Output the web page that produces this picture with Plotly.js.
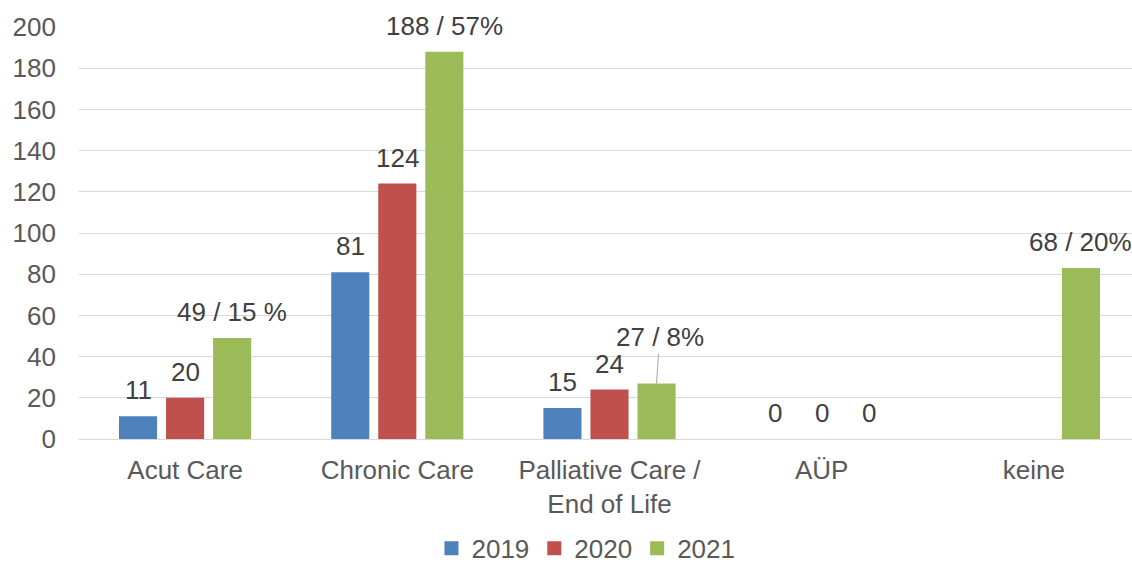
<!DOCTYPE html>
<html>
<head>
<meta charset="utf-8">
<script src="https://cdn.plot.ly/plotly-3.0.1.min.js"></script>
<style>
html,body{margin:0;padding:0;overflow:hidden;background:#fff;}
#chart{width:1140px;height:566px;}
</style>
</head>
<body>
<div id="chart"></div>
<script>
const categories = ['Acut Care', 'Chronic Care', 'Palliative Care /<br>End of Life', 'AÜP', 'keine'];
const seriesNames = ['2019', '2020', '2021'];
const values2019 = [11, 81, 15, 0, null];
const values2020 = [20, 124, 24, 0, null];
const values2021 = [49, 188, 27, 0, 83];
const labels2019 = ['11', '81', '15', '0', ''];
const labels2020 = ['20', '124', '24', '0', ''];
const labels2021 = ['49 / 15 %', '188 / 57%', '27 / 8%', '0', '68 / 20%'];
const yTicks = [0, 20, 40, 60, 80, 100, 120, 140, 160, 180, 200];

const colors = ['#4f81bd', '#c0504d', '#9bbb59'];
const allValues = [values2019, values2020, values2021];
const allLabels = [labels2019, labels2020, labels2021];
const FONT = 'Liberation Sans, Arial, sans-serif';
const FS = 26;

const BARGAP = 0.335, GROUPGAP = 0.19;
const slot = (1 - BARGAP) / 3;

const traces = seriesNames.map((n, s) => ({
  type: 'bar',
  name: n,
  x: categories,
  y: allValues[s],
  marker: {color: colors[s]},
  hoverinfo: 'none',
  showlegend: false
}));
// legend entries with square swatches
seriesNames.forEach((n, s) => {
  traces.push({
    type: 'scatter',
    mode: 'markers',
    name: n,
    x: [null], y: [null],
    marker: {symbol: 'square', size: 14, color: colors[s]},
    showlegend: true,
    hoverinfo: 'none'
  });
});

const annotations = [];
allLabels.forEach((labs, s) => {
  labs.forEach((t, i) => {
    if (!t) return;
    const a = {
      x: i + (s - 1) * slot,
      y: allValues[s][i],
      xref: 'x', yref: 'y',
      text: t,
      font: {family: FONT, size: FS, color: '#404040'},
      showarrow: false,
      yanchor: 'bottom',
      yshift: 9
    };
    // leader line for the Palliative 2021 label
    if (s === 2 && i === 2) {
      a.showarrow = true;
      a.arrowhead = 0;
      a.arrowwidth = 1;
      a.arrowcolor = '#a6a6a6';
      a.standoff = 0;
      a.ax = 3;
      a.ay = -46;
      delete a.yanchor;
      a.yshift = 0;
    }
    annotations.push(a);
  });
});

const layout = {
  width: 1140,
  height: 566,
  margin: {l: 79, r: 0, t: 27, b: 127, autoexpand: false},
  paper_bgcolor: '#ffffff',
  plot_bgcolor: '#ffffff',
  barmode: 'group',
  bargap: BARGAP,
  bargroupgap: GROUPGAP,
  font: {family: FONT, size: FS, color: '#595959'},
  xaxis: {
    type: 'category',
    range: [-0.5, 4.5],
    tickfont: {family: FONT, size: FS, color: '#595959'},
    showgrid: false,
    showline: false,
    zeroline: false,
    ticks: '',
    ticklabelstandoff: 13
  },
  yaxis: {
    range: [0, 200],
    tickvals: yTicks,
    ticktext: yTicks.map(String),
    showgrid: true,
    gridcolor: '#d9d9d9',
    gridwidth: 1,
    zeroline: true,
    zerolinecolor: '#d9d9d9',
    zerolinewidth: 1,
    showline: false,
    ticks: '',
    ticklabelstandoff: 22,
    tickfont: {family: FONT, size: FS, color: '#595959'}
  },
  legend: {
    orientation: 'h',
    x: 0.514, xanchor: 'center', xref: 'container',
    y: 0.031, yanchor: 'middle', yref: 'container',
    font: {family: FONT, size: FS, color: '#595959'},
    itemwidth: 30,
    traceorder: 'normal'
  },
  annotations: annotations,
  showlegend: true
};

Plotly.newPlot('chart', traces, layout, {displayModeBar: false, staticPlot: true});
</script>
</body>
</html>
